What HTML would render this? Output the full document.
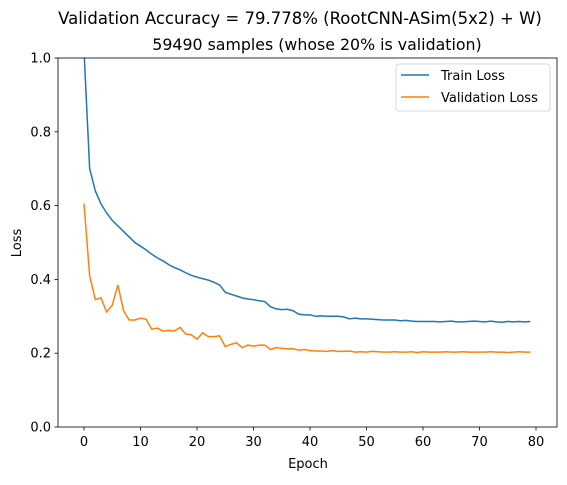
<!DOCTYPE html>
<html><head><meta charset="utf-8"><style>
body{margin:0;background:#fff;font-family:"Liberation Sans","DejaVu Sans",sans-serif}
svg text{font-family:"DejaVu Sans","Liberation Sans",sans-serif}
</style></head><body>
<svg id="c" width="567" height="480"></svg>
<script>
const epochs = Array.from({length:80},(_, i)=>i);
const trainLoss = [1.02,0.70,0.64,0.605,0.58,0.56,0.545,0.53,0.515,0.50,0.49,0.48,0.468,0.458,0.45,0.44,0.432,0.426,0.418,0.411,0.406,0.402,0.398,0.392,0.385,0.365,0.36,0.355,0.35,0.347,0.345,0.342,0.34,0.326,0.32,0.318,0.319,0.315,0.306,0.304,0.304,0.30,0.301,0.30,0.30,0.30,0.298,0.293,0.295,0.293,0.293,0.292,0.291,0.29,0.29,0.29,0.288,0.289,0.287,0.286,0.286,0.286,0.286,0.285,0.286,0.287,0.285,0.285,0.286,0.287,0.286,0.285,0.287,0.285,0.284,0.286,0.285,0.286,0.285,0.286];
const valLoss = [0.605,0.41,0.345,0.35,0.312,0.33,0.385,0.315,0.29,0.29,0.295,0.292,0.265,0.268,0.26,0.262,0.26,0.27,0.252,0.25,0.238,0.255,0.245,0.245,0.247,0.218,0.224,0.228,0.215,0.222,0.219,0.222,0.222,0.21,0.215,0.213,0.212,0.212,0.208,0.21,0.207,0.206,0.206,0.205,0.207,0.205,0.205,0.206,0.203,0.204,0.203,0.205,0.204,0.203,0.203,0.204,0.203,0.203,0.204,0.202,0.204,0.203,0.203,0.203,0.204,0.203,0.203,0.204,0.203,0.203,0.203,0.203,0.204,0.203,0.203,0.202,0.203,0.204,0.203,0.203];
const xTicks = [0,10,20,30,40,50,60,70,80];
const yTicks = [0.0,0.2,0.4,0.6,0.8,1.0];
const NS="http://www.w3.org/2000/svg", svg=document.getElementById('c');
const L=58,R=557,T=58,B=427;
const xs=v=>84+v*(536-84)/80, ys=v=>B-v*(B-T);
function el(t,a,p){const e=document.createElementNS(NS,t);for(const k in a)e.setAttribute(k,a[k]);(p||svg).appendChild(e);return e;}
const defs=el('defs',{});const cp=el('clipPath',{id:'clip'},defs);el('rect',{x:L,y:T,width:R-L,height:B-T},cp);
function line(data,color,name){
  const p=el('path',{d:data.map((v,i)=>(i?'L':'M')+xs(epochs[i]).toFixed(2)+','+ys(v).toFixed(2)).join(''),fill:'none',stroke:color,'stroke-width':1.5,'clip-path':'url(#clip)'});
  
  
}
line(trainLoss,'#1f77b4','train-loss-line');
line(valLoss,'#ff7f0e','validation-loss-line');
const frame=el('rect',{x:L,y:T,width:R-L,height:B-T,fill:'none',stroke:'#000','stroke-width':0.8});

xTicks.forEach(v=>{el('line',{x1:xs(v),x2:xs(v),y1:B,y2:B+3.5,stroke:'#000','stroke-width':0.8});
  const t=el('text',{x:xs(v),y:B+19,'text-anchor':'middle','font-size':13});t.textContent=v;
  });
yTicks.forEach(v=>{el('line',{x1:L-3.5,x2:L,y1:ys(v),y2:ys(v),stroke:'#000','stroke-width':0.8});
  const t=el('text',{x:L-7,y:ys(v)+4.5,'text-anchor':'end','font-size':13});t.textContent=v.toFixed(1);
  });
</script>
<svg width="567" height="480" style="position:absolute;left:0;top:0">
<text x="300" y="24" text-anchor="middle" font-size="16.5">Validation Accuracy = 79.778% (RootCNN-ASim(5x2) + W)</text>
<text x="317" y="50" text-anchor="middle" font-size="15.8">59490 samples (whose 20% is validation)</text>
<text x="308" y="468" text-anchor="middle" font-size="13">Epoch</text>
<text x="21" y="243" text-anchor="middle" font-size="13" transform="rotate(-90 21 243)">Loss</text>
<g>
<rect x="396" y="64" width="154" height="47" rx="3" fill="#fff" stroke="#ccc" stroke-width="0.8"/>
<line x1="401" x2="429" y1="75" y2="75" stroke="#1f77b4" stroke-width="1.5"/>
<text x="441" y="80" font-size="13">Train Loss</text>
<line x1="401" x2="429" y1="97" y2="97" stroke="#ff7f0e" stroke-width="1.5"/>
<text x="441" y="102" font-size="13">Validation Loss</text>
</g>
</svg>
</body></html>
